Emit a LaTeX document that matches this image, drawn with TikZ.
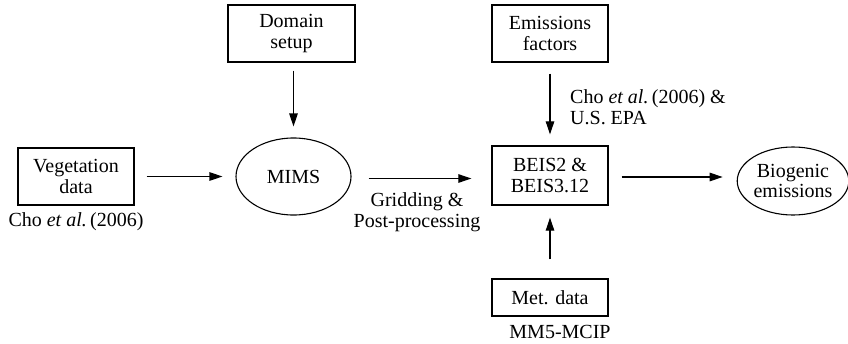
\documentclass[tikz,border=0pt]{standalone}
\usepackage{fontspec}
\setmainfont{Liberation Serif}
\usetikzlibrary{shapes.geometric,arrows.meta}
\begin{document}
\begin{tikzpicture}[x=1pt,y=-1pt,
 every node/.style={font=\fontsize{20}{20.5}\selectfont},
 box/.style={draw,line width=1.3pt,align=center,inner sep=0pt},
 oval/.style={draw,ellipse,line width=1.1pt,align=center,inner sep=0pt},
 lbl/.style={inner sep=0pt},
 arr/.style={line width=1.1pt,-{Triangle[length=13pt,width=8.5pt]}}]
\useasboundingbox (0,0) rectangle (848,343);
\node[box,minimum width=127pt,minimum height=57pt] (dom) at (291.5,33.5) {Domain\\setup};
\node[box,minimum width=116pt,minimum height=57pt] (ef) at (550,33.5) {Emissions\\factors};
\node[box,minimum width=116pt,minimum height=57pt] (veg) at (76,176.5) {Vegetation\\data};
\node[oval,minimum width=115pt,minimum height=77pt] (mims) at (293.5,176.5) {MIMS};
\node[box,minimum width=116pt,minimum height=59pt] (beis) at (550,175.5) {BEIS2 \&\\BEIS3.12};
\node[oval,minimum width=106pt,minimum height=68pt] (bio) at (793,181) {Biogenic\\emissions};
\node[box,minimum width=116pt,minimum height=37pt] (met) at (550,297.5) {Met. data};

\node[lbl] (vegl) at (76,222) {Cho \textit{et al.}\,(2006)};
\node[lbl,align=center] (grid) at (417,212) {Gridding \&\\Post-processing};
\node[lbl,align=left,anchor=west] (efl) at (570,107) {Cho \textit{et al.}\,(2006) \&\\U.S. EPA};
\node[lbl] (metl) at (560,332) {MM5-MCIP};

\draw[arr,shorten <=8pt,shorten >=11pt] (dom.south -| mims.north) -- (mims.north);
\draw[arr,shorten <=12pt,shorten >=13pt] (veg.east |- mims.west) -- (mims.west);
\draw[arr,shorten <=17pt,shorten >=20pt] ([yshift=-2pt]mims.east) -- ([yshift=-2pt]mims.east -| beis.west);
\draw[arr,shorten <=11pt,shorten >=11pt] (ef.south) -- (beis.north);
\draw[arr,shorten <=13pt,shorten >=14pt] ([yshift=-1.5pt]beis.east) -- ([yshift=-1.5pt]beis.east -| bio.west);
\draw[arr,shorten <=19pt,shorten >=12pt] (met.north) -- (beis.south);
\end{tikzpicture}
\end{document}
